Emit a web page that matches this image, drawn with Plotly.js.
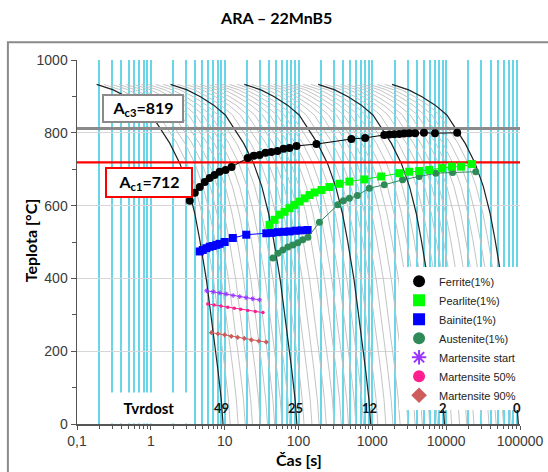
<!DOCTYPE html>
<html>
<head>
<meta charset="utf-8">
<script src="https://cdn.plot.ly/plotly-3.0.1.min.js"></script>
<style>html,body{margin:0;padding:0;background:#fff;}#chart{width:548px;height:472px;}</style>
</head>
<body>
<div id="chart"></div>
<script>
// ---- cooling curve shape (time s, temperature °C)
const CURVE_T    = [0.1846, 0.31, 0.47, 0.71, 1.02, 1.32, 1.81, 2.47, 3.19, 3.93, 4.6, 5.66, 6.95, 8.1, 9.0, 9.5];
const CURVE_TEMP = [933, 918, 899, 876, 849, 815, 771, 716, 652, 579, 506, 396, 259, 149, 67, 0];
// time shift of the five highlighted (black) curves
const BLACK_SHIFT = [1, 10, 100, 1000, 10000];
// hardness at the end of each black curve
const HARDNESS = ['49', '25', '12', '2', '0'];
// time shifts of the light grey cooling curves between the black ones
const GRAY_DECADES = [1, 10, 100, 1000];
const GRAY_FACTORS = [1.25, 1.6, 2, 2.5, 3.2, 4, 5, 6.3, 8];

// ---- phase start lines
const FERRITE_T    = [3.37, 3.94, 4.6, 5.37, 6.27, 7.3, 8.55, 10.3, 12.4, 20.5, 24.7, 29.7, 35.8, 43, 52, 62.7, 75.5, 94, 175, 520, 800, 1450, 1700, 1980, 2320, 2700, 3160, 3800, 5000, 7060, 14100];
const FERRITE_TEMP = [613, 635, 651, 665, 676, 684, 693, 698, 706, 731, 737, 739, 745, 747, 750, 756, 758, 764, 769, 783, 786, 794, 795, 796, 797, 798, 799, 799, 800, 799, 800];

const PEARLITE_T    = [40.6, 47.4, 55.4, 64.7, 75.5, 88.3, 103, 121, 141, 165, 205, 262, 358, 489, 780, 1320, 2320, 3160, 4310, 5890, 8830, 12000, 15900, 22400];
const PEARLITE_TEMP = [547, 561, 575, 583, 593, 602, 611, 620, 629, 636, 643, 651, 660, 666, 672, 680, 689, 693, 695, 698, 703, 707, 707, 714];

const BAINITE_T    = [4.6, 5.05, 5.66, 6.27, 6.88, 7.73, 8.55, 10, 12.9, 19.6, 36.6, 43, 52, 62.7, 75.5, 91, 110, 133];
const BAINITE_TEMP = [474, 478, 483, 487, 489, 492, 495, 500, 511, 520, 524, 525, 527, 528, 529, 531, 532, 533];

const AUSTENITE_T    = [45, 52.5, 61.3, 71.6, 83.7, 97.8, 114, 134, 192, 340, 405, 489, 627, 910, 1450, 2570, 4310, 7250, 12200, 25200];
const AUSTENITE_TEMP = [456, 469, 478, 486, 492, 498, 506, 513, 554, 602, 613, 620, 628, 648, 657, 671, 680, 689, 691, 693];

const MS_T     = [5.7, 7.0, 8.6, 10.5, 13, 16, 19.5, 24, 29.7];
const MS_TEMP  = [366, 363, 360, 357, 353, 350, 347, 344, 341];
const M50_T    = [5.9, 7.2, 8.9, 11, 13.5, 16.5, 20.5, 26, 33];
const M50_TEMP = [330, 327, 324, 321, 318, 315, 312, 309, 306];
const M90_T    = [6.6, 8.1, 10, 12.3, 15, 18.5, 23, 29, 36.6];
const M90_TEMP = [251, 248, 245, 241, 238, 235, 231, 228, 225];

// ---- critical temperatures (line positions as drawn, labels as printed)
const AC3_LINE = 812, AC3_LABEL = '819';
const AC1_LINE = 719, AC1_LABEL = '712';

// ---- axes
const X_TICKS = [0.1, 1, 10, 100, 1000, 10000, 100000];
const X_TICKTEXT = ['0,1', '1', '10', '100', '1000', '10000', '100000'];
const Y_TICKS = [0, 200, 400, 600, 800, 1000];
const Y_MINOR = [100, 300, 500, 700, 900];
const X_TITLE = 'Čas [s]';
const Y_TITLE = 'Teplota [°C]';

const CYAN = '#66d6e8';
const minorX = [];
X_TICKS.slice(0, -1).forEach(d => { for (let m = 2; m <= 9; m++) minorX.push(d * m); });

const traces = [];
// grey cooling curves
GRAY_DECADES.forEach(d => GRAY_FACTORS.forEach(f => {
  traces.push({x: CURVE_T.map(t => t * d * f), y: CURVE_TEMP, mode: 'lines', showlegend: false, hoverinfo: 'skip',
    line: {color: '#c4c4c4', width: 1}});
}));
// black cooling curves
BLACK_SHIFT.forEach(d => {
  traces.push({x: CURVE_T.map(t => t * d), y: CURVE_TEMP, mode: 'lines', showlegend: false, hoverinfo: 'skip',
    line: {color: '#222', width: 1.2}});
});
// critical temperature lines
traces.push({x: [X_TICKS[0], X_TICKS[X_TICKS.length - 1]], y: [AC3_LINE, AC3_LINE], mode: 'lines', showlegend: false,
  line: {color: '#8a8a8a', width: 3}});
traces.push({x: [X_TICKS[0], X_TICKS[X_TICKS.length - 1]], y: [AC1_LINE, AC1_LINE], mode: 'lines', showlegend: false,
  line: {color: '#ff0000', width: 2.2}});

function phase(name, xs, ys, lineColor, lineW, marker) {
  traces.push({x: xs, y: ys, mode: 'lines', showlegend: false, hoverinfo: 'skip', line: {color: lineColor, width: lineW}});
  traces.push({x: xs, y: ys, mode: 'markers', name: name, marker: marker});
}
phase('Ferrite(1%)', FERRITE_T, FERRITE_TEMP, '#000', 1, {symbol: 'circle', size: 8, color: '#000'});
phase('Bainite(1%)', BAINITE_T, BAINITE_TEMP, '#0000ff', 1, {symbol: 'square', size: 8, color: '#0000ff'});
phase('Austenite(1%)', AUSTENITE_T, AUSTENITE_TEMP, '#2e8b57', 1, {symbol: 'circle', size: 7, color: '#2e8b57'});
phase('Pearlite(1%)', PEARLITE_T, PEARLITE_TEMP, '#00ee00', 1, {symbol: 'square', size: 8, color: '#00ff00'});
phase('Martensite start', MS_T, MS_TEMP, '#9933ff', 1, {symbol: 'asterisk-open', size: 4, color: '#9933ff', line: {color: '#9933ff', width: 1}});
phase('Martensite 50%', M50_T, M50_TEMP, '#ff1f8f', 1, {symbol: 'circle', size: 3.5, color: '#ff1f8f'});
phase('Martensite 90%', M90_T, M90_TEMP, '#cd5c5c', 1, {symbol: 'diamond', size: 4, color: '#cd5c5c'});

// legend order as in the reference
const order = ['Ferrite(1%)', 'Pearlite(1%)', 'Bainite(1%)', 'Austenite(1%)', 'Martensite start', 'Martensite 50%', 'Martensite 90%'];
traces.forEach(t => { if (t.name) t.legendrank = order.indexOf(t.name) + 1; });

const annotations = [
  {xref: 'paper', yref: 'paper', x: 0.149, y: 0.867, xanchor: 'center', yanchor: 'middle', showarrow: false,
   text: '<b>A<sub>c3</sub>=' + AC3_LABEL + '</b>', font: {family: 'Lato', size: 16, color: '#000'},
   bgcolor: '#fff', bordercolor: '#8a8a8a', borderwidth: 2, width: 76, height: 23},
  {xref: 'paper', yref: 'paper', x: 0.162, y: 0.664, xanchor: 'center', yanchor: 'middle', showarrow: false,
   text: '<b>A<sub>c1</sub>=' + AC1_LABEL + '</b>', font: {family: 'Lato', size: 16, color: '#000'},
   bgcolor: '#fff', bordercolor: '#ff0000', borderwidth: 2, width: 82, height: 25},
  {xref: 'paper', yref: 'paper', x: 0.163, y: 0.045, xanchor: 'center', yanchor: 'middle', showarrow: false,
   text: '<b>Tvrdost</b>', font: {family: 'Lato', size: 15, color: '#000'},
   bgcolor: '#fff', width: 86, height: 28},
  // axis titles
  {xref: 'paper', yref: 'paper', x: -0.106, y: 0.505, xanchor: 'center', yanchor: 'middle', showarrow: false,
   textangle: -90, text: '<b>' + Y_TITLE + '</b>', font: {family: 'Lato', size: 16, color: '#000'}},
  {xref: 'paper', yref: 'paper', x: 0.501, y: -0.097, xanchor: 'center', yanchor: 'middle', showarrow: false,
   borderpad: 0, text: '<b>' + X_TITLE + '</b>', font: {family: 'Lato', size: 16, color: '#000'}}
];
BLACK_SHIFT.forEach((d, i) => {
  annotations.push({x: Math.log10(CURVE_T[CURVE_T.length - 1] * d) - 0.02, y: 45, xref: 'x', yref: 'y', showarrow: false,
    text: '<b>' + HARDNESS[i] + '</b>', font: {family: 'Lato', size: 13, color: '#111'}});
});

const layout = {
  width: 548, height: 472,
  margin: {l: 77, r: 28, t: 60, b: 48, pad: 0},
  paper_bgcolor: '#fff', plot_bgcolor: '#fff',
  title: {text: '<b>ARA – 22MnB5</b>', font: {family: 'Lato', size: 16, color: '#000'},
          xref: 'container', x: 0.505, y: 0.962, yanchor: 'middle'},
  xaxis: {type: 'log', range: [-1, 5], tickmode: 'array', tickvals: X_TICKS, ticktext: X_TICKTEXT,
          showgrid: true, gridcolor: CYAN, gridwidth: 2, zeroline: false,
          showline: true, linecolor: '#555', linewidth: 1.5, ticks: 'outside', ticklen: 4, tickcolor: '#555',
          tickfont: {family: 'Liberation Sans, Arial', size: 14, color: '#3a3a3a'},
          minor: {tickmode: 'array', tickvals: minorX, showgrid: true, gridcolor: CYAN, gridwidth: 2,
                  ticks: 'outside', ticklen: 3, tickcolor: '#555'}},
  yaxis: {range: [0, 1000], tickmode: 'array', tickvals: Y_TICKS, showgrid: true, gridcolor: '#d6d6d6', gridwidth: 1,
          zeroline: false, showline: true, linecolor: '#555', linewidth: 1.5, ticks: 'outside', ticklen: 5, tickcolor: '#555',
          tickfont: {family: 'Liberation Sans, Arial', size: 14, color: '#3a3a3a'},
          minor: {tickmode: 'array', tickvals: Y_MINOR, ticks: 'outside', ticklen: 4, tickcolor: '#555', showgrid: false}},
  legend: {x: 0.727, y: 0.432, xanchor: 'left', yanchor: 'top', bgcolor: '#fff', borderwidth: 0,
           font: {family: 'Liberation Sans, Arial', size: 11, color: '#222'}, itemwidth: 30, tracegroupgap: 0,
           itemsizing: 'constant'},
  shapes: [{type: 'rect', xref: 'paper', yref: 'paper', x0: -0.156, x1: 1.08, y0: -0.2, y1: 1.049,
            line: {color: '#8a8a8a', width: 2}, layer: 'above'}],
  annotations: annotations,
  showlegend: true
};

Plotly.newPlot('chart', traces, layout, {staticPlot: true, displayModeBar: false});
</script>
</body>
</html>
